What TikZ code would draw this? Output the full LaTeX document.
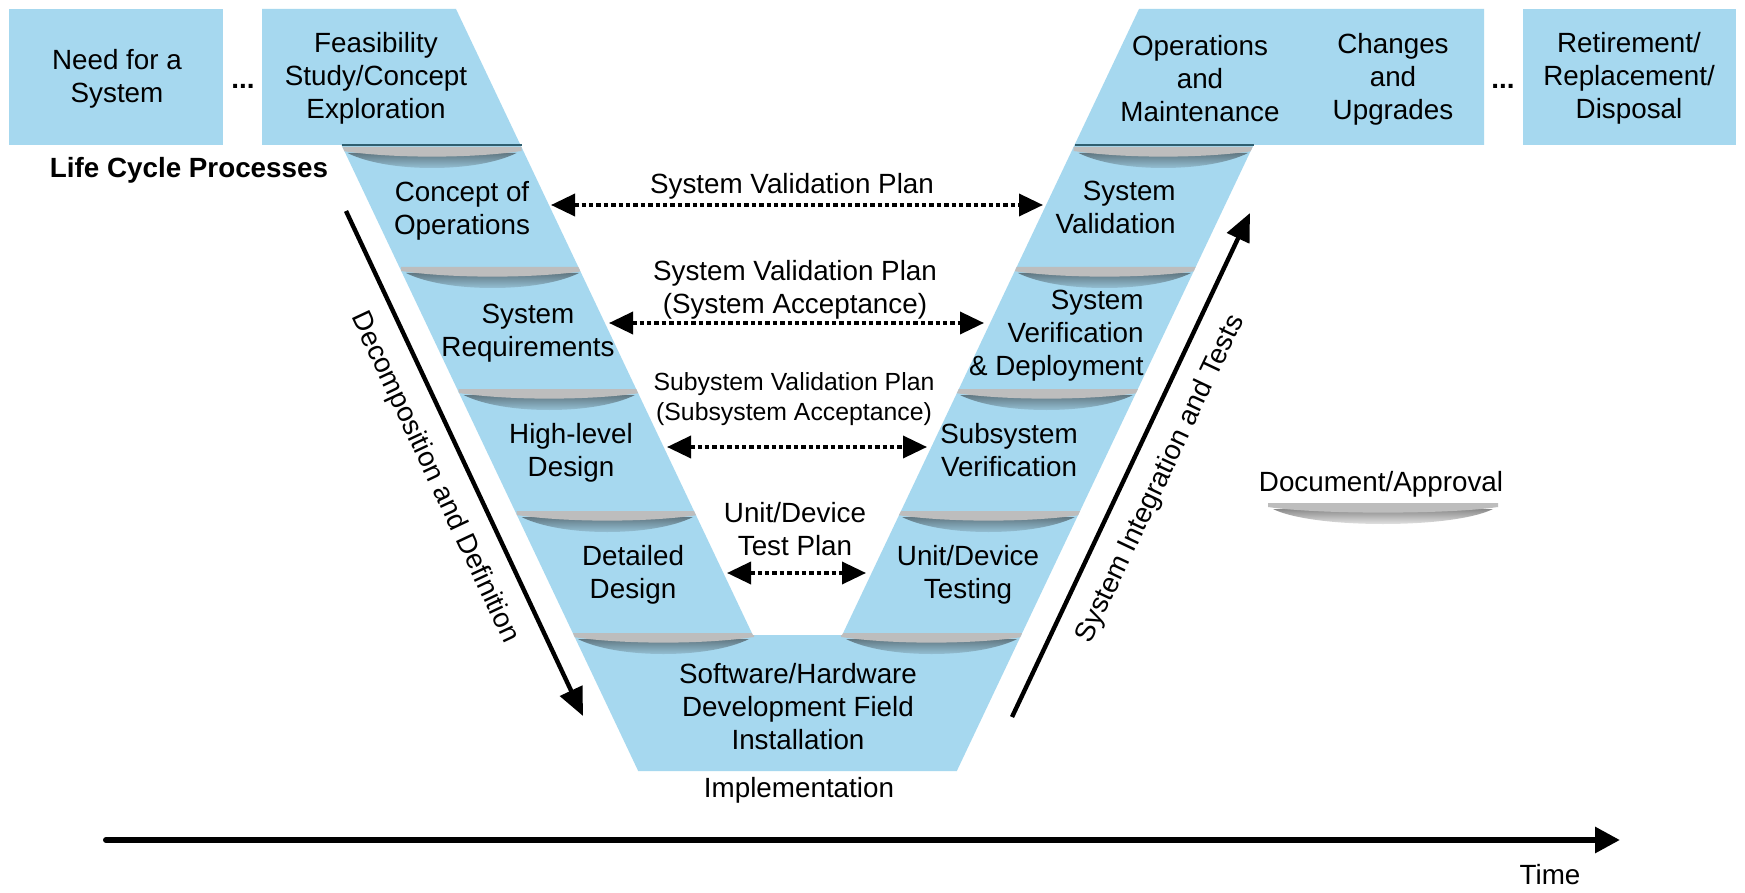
\documentclass[tikz,border=0pt]{standalone}
\usepackage{fontspec}
\setmainfont{Liberation Sans}
\usetikzlibrary{arrows.meta,calc}
\definecolor{vblue}{HTML}{A6D8EF}
\definecolor{bargray}{HTML}{BDBDBD}
\definecolor{edgec}{HTML}{2F5F70}
\newcommand{\docbar}[4]{%
  \shade[top color=#4!55!black!85!gray,bottom color=#4] (#1+5,#3+6) .. controls (#1+45,#3+26) and (#2-45,#3+26) .. (#2-5,#3+6) -- cycle;
  \fill[bargray] (#1,#3) -- (#2,#3) -- (#2,#3+4) .. controls (#2-50,#3+11.5) and (#1+50,#3+11.5) .. (#1,#3+4) -- cycle;
}
\begin{document}
\begin{tikzpicture}[x=0.5pt,y=-0.5pt,
  txt/.style={align=center,inner sep=0pt,font=\fontsize{13.9}{16.5}\selectfont},
  smalltxt/.style={align=center,inner sep=0pt,font=\fontsize{12.4}{15}\selectfont},
  planarrow/.style={line width=1.8pt,dash pattern=on 2.2pt off 1.5pt,{Triangle[length=12pt,width=11pt]}-{Triangle[length=12pt,width=11pt]}},
  bigarrow/.style={line width=2.2pt,-{Triangle[length=14pt,width=12pt]}},
  timearrow/.style={line width=3pt,line cap=round,-{Triangle[length=12.5pt,width=12.5pt]}},
]
\useasboundingbox[fill=white] (0,0) rectangle (1745,893);

% boxes
\fill[vblue] (9,9) rectangle (223,145);
\fill[vblue] (1523,9) rectangle (1736,145);
\def\vpath{(262,9) -- (456,9) -- (752.8,635) -- (842.2,635) -- (1139,9) -- (1484,9) -- (1484,145) -- (1253.5,145) -- (956.8,771) -- (638.2,771) -- (341.5,145) -- (262,145) -- cycle}
\fill[vblue] \vpath;

% document bars
\begin{scope}
\clip \vpath;
\docbar{342.5}{521.5}{147}{vblue}
\docbar{401}{584}{267}{vblue}
\docbar{458.6}{640}{389}{vblue}
\docbar{516.5}{698}{511}{vblue}
\docbar{572.8}{754}{633}{vblue}
\docbar{1073.6}{1253}{147}{vblue}
\docbar{1013}{1196}{267}{vblue}
\docbar{955}{1138}{389}{vblue}
\docbar{897}{1080}{511}{vblue}
\docbar{841}{1022.2}{633}{vblue}
\end{scope}
\draw[edgec,line width=1.2pt] (341.5,145) -- (521.5,145);
\draw[edgec,line width=1.2pt] (1074.5,145) -- (1253.5,145);
% legend bar
\docbar{1268}{1498}{503}{white}

% texts
\node[txt] (need) at (117,79) {Need for a\\System};
\node[txt,font=\fontsize{13.9}{16.5}\selectfont\bfseries] (dots1) at (243,86) {...};
\node[txt] (feas) at (376,78) {Feasibility\\Study/Concept\\Exploration};
\node[txt] (ops) at (1200,79) {Operations\\and\\Maintenance};
\node[txt] (chg) at (1393,79) {Changes\\and\\Upgrades};
\node[txt,font=\fontsize{13.9}{16.5}\selectfont\bfseries] (dots2) at (1503,86) {...};
\node[txt] (ret) at (1629,78) {Retirement/\\Replacement/\\Disposal};
\node[txt,font=\fontsize{13.9}{16.5}\selectfont\bfseries] (lcp) at (189,170) {Life Cycle Processes};

\node[txt] (conops) at (462,211) {Concept of\\Operations};
\node[txt] (sysreq) at (528,333) {System\\Requirements};
\node[txt] (hld) at (571,453) {High-level\\Design};
\node[txt] (dd) at (633,575) {Detailed\\Design};

\node[txt,align=right,anchor=east] (sysval) at (1176,207) {System\\Validation};
\node[txt,align=right,anchor=east] (sysver) at (1144,336) {System\\Verification\\\& Deployment};
\node[txt] (subver) at (1009,450) {Subsystem\\Verification};
\node[txt] (udt) at (968,575) {Unit/Device\\Testing};

\node[txt] (sw) at (798,707) {Software/Hardware\\Development Field\\Installation};
\node[txt] (implbl) at (799,790) {Implementation};

\node[txt] (svp1) at (792,186) {System Validation Plan};
\node[txt] (svp2) at (795,290) {System Validation Plan\\(System Acceptance)};
\node[smalltxt] (ssvp) at (794,399) {Subystem Validation Plan\\(Subsystem Acceptance)};
\node[txt] (udtp) at (795,529) {Unit/Device\\Test Plan};

\node[txt] (doc) at (1381,484) {Document/Approval};
\node[txt] (time) at (1550,875) {Time};

% plan arrows
\coordinate (a1l) at (551,205); \coordinate (a1r) at (1043,205);
\coordinate (a2l) at (609,323); \coordinate (a2r) at (984,323);
\coordinate (a3l) at (667,447); \coordinate (a3r) at (927,447);
\coordinate (a4l) at (727,573); \coordinate (a4r) at (866,573);
\draw[planarrow] (a1l) -- (a1r);
\draw[planarrow] (a2l) -- (a2r);
\draw[planarrow] (a3l) -- (a3r);
\draw[planarrow] (a4l) -- (a4r);

% big arrows
\coordinate (ds) at (346,211); \coordinate (de) at (583,716);
\coordinate (is) at (1012,717); \coordinate (ie) at (1250,213);
\draw[bigarrow] (ds) -- (de) node[midway,sloped,anchor=north,inner xsep=0pt,inner ysep=9pt,font=\fontsize{13.9}{16.5}\selectfont] (declbl) {Decomposition and Definition};
\draw[bigarrow] (is) -- (ie) node[midway,sloped,anchor=north,inner xsep=0pt,inner ysep=9pt,font=\fontsize{13.9}{16.5}\selectfont] (intlbl) {System Integration and Tests};

\coordinate (ts) at (106,840); \coordinate (te) at (1620,840);
\draw[timearrow] (ts) -- (te);
\end{tikzpicture}
\end{document}
